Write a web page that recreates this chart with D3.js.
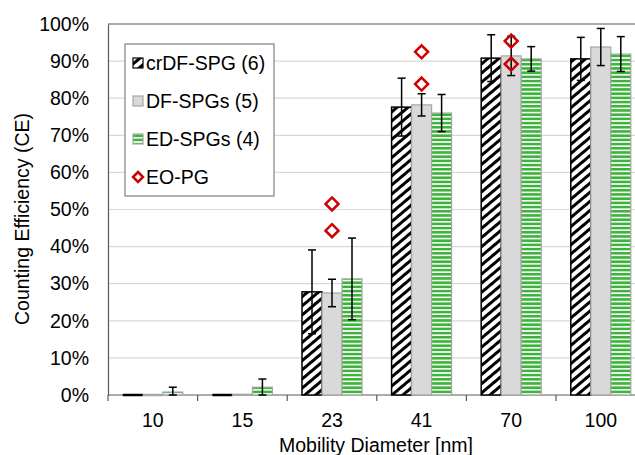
<!DOCTYPE html>
<html><head><meta charset="utf-8">
<script src="https://cdn.jsdelivr.net/npm/d3@7"></script>
<style>body{margin:0;background:#fff}svg{display:block;font-family:"Liberation Sans",Arial,sans-serif}</style>
</head><body><svg id="c" width="635" height="455"></svg>
<script>
const categories = ["10","15","23","41","70","100"];
const seriesNames = ["crDF-SPG (6)","DF-SPGs (5)","ED-SPGs (4)"];
const crDF = [0, 0, 27.8, 77.6, 90.8, 90.6];
const crDFErr = [0, 0, 11.3, 7.8, 6.3, 5.8];
const DF = [0, 0.2, 27.5, 78.2, 91.4, 93.8];
const DFErr = [0, 0, 3.7, 3.0, 5.3, 5.0];
const ED = [0.8, 2.1, 31.3, 76.0, 90.6, 91.9];
const EDErr = [1.3, 2.2, 11.0, 5.0, 3.3, 4.7];
const eoCats = ["23","23","41","41","70","70"];
const eoVals = [51.5, 44.3, 92.5, 83.8, 95.4, 89.2];
const yTicks = [0,10,20,30,40,50,60,70,80,90,100];

const FS = 19.5;
const svg = d3.select("#c");
const L = 108, T = 24, B = 395, bandW = 89.6;
const R = L + bandW * categories.length;
const x0 = d3.scaleBand().domain(categories).range([L, R]).paddingInner(0).paddingOuter(0);
const groupW = 60;
const x1 = d3.scaleBand().domain(seriesNames).range([0, groupW]).padding(0);
const y = d3.scaleLinear().domain([0, 100]).range([B, T]);

const defs = svg.append("defs");
const p1 = defs.append("pattern").attr("id","hatch").attr("patternUnits","userSpaceOnUse")
  .attr("width",7).attr("height",7).attr("patternTransform","rotate(-40)");
p1.append("rect").attr("width",7).attr("height",7).attr("fill","#fff");
p1.append("rect").attr("width",7).attr("height",3).attr("fill","#000");
const p2 = defs.append("pattern").attr("id","hstripe").attr("patternUnits","userSpaceOnUse")
  .attr("width",4).attr("height",4.2);
p2.append("rect").attr("width",4).attr("height",4.2).attr("fill","#fff");
p2.append("rect").attr("y",0).attr("width",4).attr("height",2.6).attr("fill","#3cb43a");

svg.append("g").selectAll("line").data(yTicks.filter(d=>d>0 && d<100)).join("line")
  .attr("x1",L).attr("x2",R).attr("y1",d=>y(d)).attr("y2",d=>y(d))
  .attr("stroke","#d9d9d9").attr("stroke-width",1.2);

svg.append("line").attr("x1",L).attr("x2",R).attr("y1",T).attr("y2",T).attr("stroke","#595959").attr("stroke-width",1.2);

const seriesData = [
  {name: seriesNames[0], vals: crDF, err: crDFErr, fill: "url(#hatch)", stroke: "#000", sw: 1.5},
  {name: seriesNames[1], vals: DF, err: DFErr, fill: "#d9d9d9", stroke: "#a6a6a6", sw: 1.2},
  {name: seriesNames[2], vals: ED, err: EDErr, fill: "url(#hstripe)", stroke: "#a6a6a6", sw: 1.2}
];
const off = (bandW - groupW) / 2;

svg.append("line").attr("x1",L).attr("x2",R).attr("y1",B).attr("y2",B).attr("stroke","#595959").attr("stroke-width",1.2);

seriesData.forEach(s => {
  const g = svg.append("g");
  const data = categories.map((c,i)=>({c, v:s.vals[i]}));
  g.selectAll("rect").data(data.filter(d=>d.v>0)).join("rect")
    .attr("x", d => x0(d.c) + off + x1(s.name))
    .attr("width", x1.bandwidth())
    .attr("y", d => y(d.v))
    .attr("height", d => B - y(d.v))
    .attr("fill", s.fill).attr("stroke", s.stroke).attr("stroke-width", s.sw);
  g.selectAll("line").data(data.filter(d=>d.v<=0)).join("line")
    .attr("x1", d => x0(d.c) + off + x1(s.name))
    .attr("x2", d => x0(d.c) + off + x1(s.name) + x1.bandwidth())
    .attr("y1", y(0)).attr("y2", y(0))
    .attr("stroke", s.stroke).attr("stroke-width", 2.5);
});

seriesData.forEach(s => {
  const g = svg.append("g").attr("stroke","#000").attr("stroke-width",1.5);
  categories.forEach((c,i) => {
    if (!s.err[i]) return;
    const cx = x0(c) + off + x1(s.name) + x1.bandwidth()/2;
    const lo = Math.max(0, s.vals[i]-s.err[i]), hi = s.vals[i]+s.err[i];
    g.append("line").attr("x1",cx).attr("x2",cx).attr("y1",y(lo)).attr("y2",y(hi));
    g.append("line").attr("x1",cx-4).attr("x2",cx+4).attr("y1",y(hi)).attr("y2",y(hi));
    g.append("line").attr("x1",cx-4).attr("x2",cx+4).attr("y1",y(lo)).attr("y2",y(lo));
  });
});

function diamondPath(s){ return `M0,${-s}L${s},0L0,${s}L${-s},0Z`; }
svg.append("g").selectAll("path").data(eoCats.map((c,i)=>({c,v:eoVals[i]}))).join("path")
  .attr("d", diamondPath(6.5))
  .attr("transform", d => `translate(${x0(d.c)+bandW/2},${y(d.v)})`)
  .attr("fill","none").attr("stroke","#cc0000").attr("stroke-width",2.5);

const yAxis = d3.axisLeft(y).tickValues(yTicks).tickFormat(d=>d+"%").tickSize(0).tickPadding(19);
const ya = svg.append("g").attr("transform",`translate(${L},0)`).call(yAxis);
ya.select(".domain").attr("stroke","#595959").attr("stroke-width",1.2);
ya.selectAll("text").attr("font-size",FS).attr("fill","#000").attr("font-family","Liberation Sans, Arial, sans-serif");

const xAxis = d3.axisBottom(x0).tickSize(0).tickPadding(18);
const xa = svg.append("g").attr("transform",`translate(0,${B})`).call(xAxis);
xa.select(".domain").remove();
xa.selectAll("text").attr("font-size",FS).attr("fill","#000").attr("font-family","Liberation Sans, Arial, sans-serif");
xa.append("g").selectAll("line").data(categories).join("line")
  .attr("x1", d=>x0(d)).attr("x2", d=>x0(d)).attr("y1",0).attr("y2",6)
  .attr("stroke","#595959").attr("stroke-width",1.2);

svg.append("text").attr("x",376).attr("y",452).attr("text-anchor","middle")
  .attr("font-size",FS).text("Mobility Diameter [nm]");
svg.append("text").attr("transform","translate(29,219) rotate(-90)").attr("text-anchor","middle")
  .attr("font-size",FS).text("Counting Efficiency (CE)");

const lg = svg.append("g");
lg.append("rect").attr("x",125).attr("y",44).attr("width",149).attr("height",152)
  .attr("fill","#fff").attr("stroke","#808080").attr("stroke-width",1.2);
const legendItems = [
  {label: seriesNames[0], type:"rect", fill:"url(#hatch)", stroke:"#000"},
  {label: seriesNames[1], type:"rect", fill:"#d9d9d9", stroke:"#a6a6a6"},
  {label: seriesNames[2], type:"rect", fill:"url(#hstripe)", stroke:"#a6a6a6"},
  {label: "EO-PG", type:"diamond"}
];
legendItems.forEach((d,i) => {
  const cy = 63 + i*38;
  if (d.type === "rect") {
    lg.append("rect").attr("x",133).attr("y",cy-5).attr("width",10).attr("height",10)
      .attr("fill",d.fill).attr("stroke",d.stroke).attr("stroke-width",1.2);
  } else {
    lg.append("path").attr("d",diamondPath(5)).attr("transform",`translate(138,${cy})`)
      .attr("fill","none").attr("stroke","#cc0000").attr("stroke-width",2.5);
  }
  lg.append("text").attr("x",146).attr("y",cy+7).attr("font-size",FS).text(d.label);
});
</script></body></html>
